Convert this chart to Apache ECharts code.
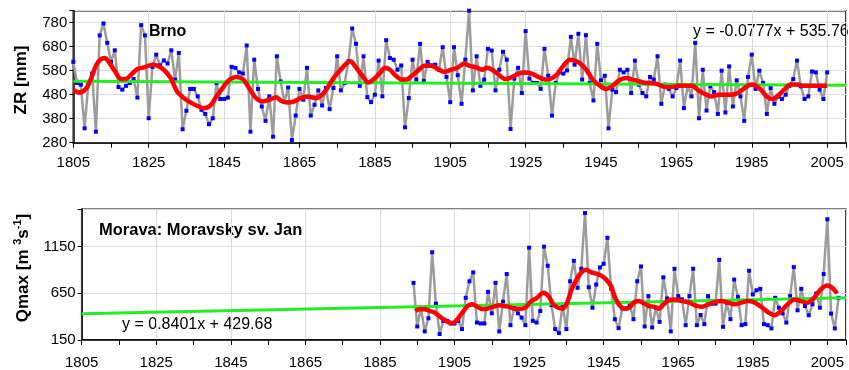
<!DOCTYPE html>
<html>
<head>
<meta charset="utf-8">
<script src="https://cdn.jsdelivr.net/npm/echarts@6/dist/echarts.min.js"></script>
<style>
  html, body { margin: 0; padding: 0; background: #fff; }
  #chart { width: 849px; height: 370px; }
</style>
</head>
<body>
<div id="chart"></div>
<script>
// Brno: yearly precipitation ZR [mm], 1805-2005
const brnoStart = 1805;
const brnoZR = [
  617, 529, 522, 340, 531, 568, 326, 727, 777, 696,
  617, 665, 512, 501, 517, 529, 545, 468, 770, 727,
  382, 596, 647, 602, 623, 610, 665, 543, 654, 336,
  413, 504, 504, 473, 417, 400, 357, 382, 529, 462,
  462, 468, 596, 592, 573, 568, 685, 326, 626, 504,
  431, 371, 473, 305, 640, 535, 449, 510, 291, 393,
  504, 459, 592, 393, 438, 498, 435, 508, 420, 508,
  640, 498, 529, 619, 756, 692, 517, 640, 470, 449,
  480, 622, 473, 707, 633, 626, 584, 602, 344, 466,
  626, 543, 692, 538, 617, 602, 605, 584, 678, 554,
  449, 678, 561, 442, 626, 830, 498, 640, 517, 543,
  671, 664, 498, 584, 659, 626, 337, 547, 592, 487,
  745, 547, 529, 529, 504, 671, 559, 393, 529, 573,
  568, 581, 721, 605, 734, 543, 728, 529, 456, 692,
  540, 559, 340, 501, 491, 584, 573, 584, 487, 622,
  522, 487, 473, 554, 543, 640, 442, 522, 504, 473,
  508, 622, 424, 517, 473, 696, 382, 584, 414, 515,
  491, 400, 580, 406, 598, 431, 540, 473, 371, 554,
  647, 504, 580, 529, 400, 508, 442, 473, 462, 480,
  517, 545, 622, 515, 462, 473, 577, 573, 501, 462,
  573
];
// red smoothed curve [year, mm]
const brnoSmooth = [
  [1805, 498], [1806.7, 489], [1808.5, 508], [1809.8, 550], [1811.1, 605], [1812.4, 629],
  [1813.4, 633], [1814.6, 612], [1816.1, 577], [1817.6, 545], [1818.9, 545], [1820.3, 563],
  [1822, 587], [1823.8, 594], [1826, 605], [1827.3, 601], [1829, 584], [1830.8, 550],
  [1832.5, 494], [1833.8, 473], [1835.6, 452], [1837.8, 434], [1839.5, 424], [1841.3, 434],
  [1843, 473], [1844.8, 512], [1846.5, 543], [1848.3, 554], [1850, 545], [1851.8, 504],
  [1853.5, 466], [1855.3, 452], [1857, 459], [1858.8, 469], [1860.1, 455], [1861.9, 447],
  [1863.6, 452], [1865.3, 466], [1867.1, 473], [1869.3, 466], [1871, 480], [1872.4, 508],
  [1874.1, 550], [1875.9, 584], [1877.6, 612], [1878.5, 619], [1879.8, 598], [1881.5, 563],
  [1883.3, 531], [1884.6, 543], [1886.4, 571], [1887.7, 592], [1889, 584], [1890.3, 563],
  [1892.1, 543], [1893.4, 543], [1894.7, 557], [1896.4, 580], [1898.2, 601], [1899.9, 601],
  [1901.7, 587], [1903.4, 575], [1905.2, 584], [1906.9, 592], [1908.7, 610], [1910, 601],
  [1912.2, 592], [1913.5, 584], [1914.8, 592], [1916.1, 584], [1917.9, 563], [1919.6, 545],
  [1920.9, 550], [1923.1, 568], [1924.9, 573], [1926.6, 568], [1928.4, 554], [1930.1, 543],
  [1931.4, 545], [1933.2, 563], [1934.9, 598], [1936.7, 626], [1938, 622], [1939.3, 612],
  [1941.1, 584], [1942.8, 543], [1944.6, 519], [1946.3, 504], [1948.1, 517], [1949.8, 540],
  [1951.6, 550], [1953.3, 543], [1955.1, 536], [1956.8, 529], [1958.6, 529], [1960.3, 522],
  [1962.1, 512], [1963.8, 512], [1965.6, 517], [1967.3, 517], [1969.1, 517], [1970.8, 498],
  [1972.6, 483], [1974.3, 473], [1976.1, 480], [1977.8, 480], [1979.6, 480], [1981.3, 487],
  [1983.1, 508], [1984.8, 522], [1986.1, 517], [1987.4, 501], [1989.2, 469], [1990.5, 462],
  [1991.8, 473], [1993.6, 501], [1995.3, 522], [1997.1, 522], [1998.8, 517], [2001, 517],
  [2003.1, 517], [2005, 517]
];
// linear trend shown in the chart: y = a*x + b, x = year - 1804
const brnoTrend = { a: -0.0777, b: 535.76 };

// Morava: Moravsky sv. Jan, annual peak discharge Qmax, 1894-2008
const moravaStart = 1894;
const moravaQmax = [
  762, 295, 496, 242, 383, 1090, 539, 214, 355, 355,
  327, 327, 355, 267, 602, 779, 874, 337, 327, 327,
  666, 436, 762, 242, 560, 857, 309, 496, 436, 390,
  309, 1139, 355, 337, 461, 1150, 945, 524, 267, 224,
  524, 267, 779, 998, 709, 913, 1510, 715, 496, 744,
  927, 966, 1245, 701, 373, 277, 489, 489, 524, 373,
  779, 938, 295, 620, 284, 496, 344, 821, 595, 242,
  913, 620, 585, 309, 620, 913, 309, 418, 320, 620,
  539, 539, 1009, 291, 550, 373, 797, 613, 309, 320,
  892, 638, 683, 698, 320, 309, 274, 602, 496, 436,
  337, 620, 931, 468, 698, 514, 415, 532, 648, 496,
  857, 1443, 433, 274, 602
];
const moravaSmooth = [
  [1894.5, 461], [1895.6, 479], [1897, 479], [1898.3, 461], [1899.6, 444], [1901.4, 390],
  [1903.2, 344], [1904.5, 330], [1905.8, 373], [1907.1, 444], [1908.5, 514], [1909.8, 532],
  [1911.1, 507], [1912.5, 479], [1913.8, 486], [1915.6, 507], [1916.9, 521], [1918.2, 514],
  [1919.5, 507], [1920.9, 486], [1922.6, 486], [1924, 496], [1925.3, 556], [1927.1, 602],
  [1928.8, 656], [1930.2, 620], [1931.5, 532], [1932.8, 496], [1934.1, 486], [1935.2, 550],
  [1936.4, 691], [1937.7, 797], [1939, 874], [1940.3, 903], [1941.7, 874], [1943, 860],
  [1944.3, 839], [1945.7, 797], [1947, 726], [1948.1, 602], [1949.4, 514], [1950.5, 486],
  [1951.9, 496], [1953.2, 556], [1954.5, 567], [1955.8, 542], [1957.2, 514], [1958.5, 507],
  [1959.8, 486], [1961.1, 532], [1962.5, 578], [1964.2, 585], [1966, 567], [1967.8, 553],
  [1969.5, 521], [1971.3, 507], [1973.1, 532], [1974.8, 556], [1976.6, 567], [1978.4, 550],
  [1980.2, 532], [1981.9, 550], [1983.7, 567], [1985.5, 550], [1987.2, 507], [1989, 450],
  [1990.8, 415], [1992.6, 461], [1994.3, 532], [1996.1, 585], [1997.9, 567], [1999.6, 550],
  [2001.4, 602], [2003.2, 691], [2005, 733], [2006.3, 709], [2007.6, 648]
];
const moravaTrend = { a: 0.8401, b: 429.68 };

const yearMin = 1805, yearMax = 2010;
const font = '"Liberation Sans", Arial, sans-serif';

const chart = echarts.init(document.getElementById('chart'));

function toPairs(start, values) {
    return values.map((v, i) => [start + i, v]);
}
function trendLine(t) {
    return [yearMin, yearMax].map(yr => [yr, t.a * (yr - 1804) + t.b]);
}

function xAxes(grid, margin) {
    return [{
        gridIndex: grid, type: 'value', min: yearMin, max: yearMax, interval: 10,
        axisLine: { lineStyle: { color: '#000', width: 1.5 } },
        axisTick: { length: 5, lineStyle: { color: '#000' } },
        splitLine: { show: false },
        axisLabel: {
            color: '#000', fontSize: 15, fontFamily: font, margin: margin,
            formatter: v => ((v - yearMin) % 20 === 0 && v <= 2005) ? String(v) : ''
        }
    }, {
        // only the 20-year vertical grid lines
        gridIndex: grid, type: 'value', min: yearMin, max: yearMax, interval: 20,
        axisLine: { show: false }, axisTick: { show: false }, axisLabel: { show: false },
        splitLine: { lineStyle: { color: '#dcdcdc' } }
    }];
}

function yAxis(grid, min, max, interval) {
    return {
        gridIndex: grid, type: 'value', min: min, max: max, interval: interval,
        axisLine: { show: true, lineStyle: { color: '#000', width: 1.5 } },
        axisTick: { show: true, length: 4, lineStyle: { color: '#000' } },
        splitLine: { lineStyle: { color: '#dcdcdc' } },
        axisLabel: {
            color: '#000', fontSize: 15, fontFamily: font, margin: 6,
            formatter: v => v === max ? '' : String(v)
        }
    };
}

function panelSeries(x, y, raw, smooth, trend) {
    return [{
        type: 'line', xAxisIndex: x, yAxisIndex: y, data: raw, z: 2,
        symbol: 'rect', symbolSize: 4,
        itemStyle: { color: '#0000ff' },
        lineStyle: { color: '#9c9c9c', width: 2.5 }
    }, {
        type: 'line', xAxisIndex: x, yAxisIndex: y, data: trendLine(trend), z: 3,
        symbol: 'none', lineStyle: { color: '#22ee22', width: 3 }
    }, {
        type: 'line', xAxisIndex: x, yAxisIndex: y, data: smooth, z: 4,
        symbol: 'none', smooth: 0.3, lineStyle: { color: '#ff0000', width: 4.5 }
    }];
}

const option = {
    animation: false,
    backgroundColor: '#fff',
    grid: [
        { left: 73.3, top: 10.7, right: -5, bottom: 227.3, show: true, borderColor: '#000', borderWidth: 1.5 },
        { left: 81.7, top: 209.3, right: -5, bottom: 29, show: true, borderColor: '#000', borderWidth: 1.5 }
    ],
    xAxis: [...xAxes(0, 13), ...xAxes(1, 15)],
    yAxis: [yAxis(0, 280, 830, 100), yAxis(1, 150, 1550, 500)],
    series: [
        ...panelSeries(0, 0, toPairs(brnoStart, brnoZR), brnoSmooth, brnoTrend),
        ...panelSeries(2, 1, toPairs(moravaStart, moravaQmax), moravaSmooth, moravaTrend)
    ],
    graphic: [
        { type: 'text', left: 149, top: 24, style: { text: 'Brno', font: 'bold 16px ' + font, fill: '#000' } },
        { type: 'text', left: 693, top: 24, style: { text: 'y = -0.0777x + 535.76', font: '16px ' + font, fill: '#000' } },
        { type: 'text', left: 99, top: 222, style: { text: 'Morava: Moravsky sv. Jan', font: 'bold 16.5px ' + font, fill: '#000' } },
        { type: 'text', left: 122, top: 317, style: { text: 'y = 0.8401x + 429.68', font: '16px ' + font, fill: '#000' } },
        {
            type: 'text', x: 21, y: 80, rotation: Math.PI / 2,
            style: { text: 'ZR [mm]', font: 'bold 17px ' + font, fill: '#000',
                     align: 'center', verticalAlign: 'middle', textAlign: 'center', textVerticalAlign: 'middle' }
        },
        {
            type: 'text', x: 23, y: 268, rotation: Math.PI / 2,
            style: {
                text: '{n|Qmax [m }{s|3}{n|s}{s|-1}{n|]}',
                align: 'center', verticalAlign: 'middle', textAlign: 'center', textVerticalAlign: 'middle',
                rich: {
                    n: { font: 'bold 17px ' + font, fill: '#000', lineHeight: 22 },
                    s: { font: 'bold 11px ' + font, fill: '#000', lineHeight: 12, verticalAlign: 'top' }
                }
            }
        }
    ]
};
chart.setOption(option);
</script>
</body>
</html>
